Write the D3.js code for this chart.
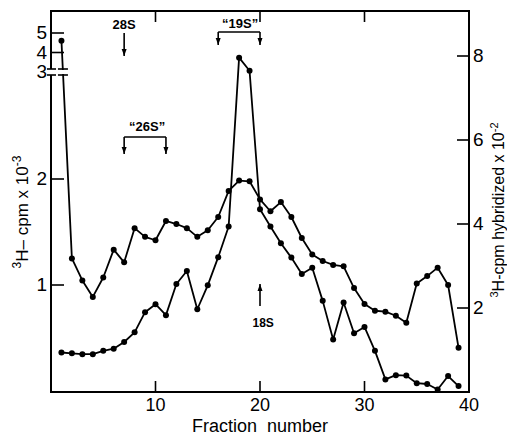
<!DOCTYPE html>
<html>
<head>
<meta charset="utf-8">
<script src="https://cdn.jsdelivr.net/npm/d3@7"></script>
<style>
  body { margin: 0; background: #fff; }
  svg { display: block; }
  text { font-family: "Liberation Sans", Arial, sans-serif; fill: #000; }
</style>
</head>
<body>
<script>
// fraction numbers 1..39
const fractions = d3.range(1, 40);

// total 3H-cpm x 10^-3 (left, log axis; first value sits above the axis break)
const totalCpm = [4.6, 1.19, 1.03, 0.925, 1.05, 1.26, 1.16, 1.45, 1.37, 1.34,
  1.52, 1.49, 1.45, 1.37, 1.43, 1.56, 1.85, 1.98, 1.97, 1.75,
  1.62, 1.72, 1.56, 1.36, 1.22, 1.17, 1.14, 1.13, 0.98, 0.883,
  0.845, 0.84, 0.818, 0.781, 1.01, 1.06, 1.12, 1.0, 0.663];

// hybridized 3H-cpm x 10^-2 (right, linear axis)
const hybridCpm = [0.94, 0.92, 0.9, 0.9, 0.98, 1.03, 1.19, 1.42, 1.9, 2.09,
  1.83, 2.57, 2.88, 1.97, 2.54, 3.21, 3.94, 7.96, 7.65, 4.35,
  3.94, 3.54, 3.2, 2.81, 2.96, 2.17, 1.25, 2.13, 1.4, 1.55,
  0.98, 0.3, 0.4, 0.39, 0.21, 0.19, 0.06, 0.38, 0.14];

const xTicks = [10, 20, 30, 40];
const leftTicks = [1, 2];
const leftUpperTicks = [3, 4, 5];
const rightTicks = [2, 4, 6, 8];

const width = 507, height = 437;
const plotLeft = 51, plotRight = 469, plotTop = 11, plotBottom = 392;
const breakY = 72;

const svg = d3.select("body").append("svg")
    .attr("width", width)
    .attr("height", height);

const x = d3.scaleLinear().domain([0, 40]).range([plotLeft, plotRight]);
const yLog = d3.scaleLog().domain([1, 2]).range([285, 179]);
const yUpper = d3.scaleLinear().domain([3, 5]).range([breakY, 33]);
const yLeft = v => v >= 3 ? yUpper(v) : yLog(v);
const yRight = d3.scaleLinear().domain([0, 8]).range([plotBottom, 56]);

const ink = "#000";

// frame
svg.append("path")
    .attr("d", `M${plotLeft},${breakY - 3}V${plotTop}H${plotRight}V${plotBottom}H${plotLeft}V${breakY + 3}`)
    .attr("fill", "none").attr("stroke", ink).attr("stroke-width", 2);

// axis break marks on left axis
[breakY - 3, breakY + 3].forEach(yy => {
  svg.append("line").attr("x1", plotLeft - 4).attr("x2", plotLeft + 5)
      .attr("y1", yy).attr("y2", yy).attr("stroke", ink).attr("stroke-width", 1.6);
});

// x ticks bottom (inward) and top (inward), no tick at 40
xTicks.filter(d => d < 40).forEach(d => {
  svg.append("line").attr("x1", x(d)).attr("x2", x(d))
      .attr("y1", plotBottom).attr("y2", plotBottom - 11).attr("stroke", ink).attr("stroke-width", 1.6);
  svg.append("line").attr("x1", x(d)).attr("x2", x(d))
      .attr("y1", plotTop).attr("y2", plotTop + 11).attr("stroke", ink).attr("stroke-width", 1.6);
});
svg.append("g").selectAll("text").data(xTicks).join("text")
    .attr("x", d => x(d)).attr("y", 411)
    .attr("text-anchor", "middle")
    .style("font-size", "18px")
    .text(d => d);

// left ticks
leftTicks.forEach(d => {
  svg.append("line").attr("x1", plotLeft).attr("x2", plotLeft + 13)
      .attr("y1", yLog(d)).attr("y2", yLog(d)).attr("stroke", ink).attr("stroke-width", 1.6);
});
leftUpperTicks.filter(d => d > 3).forEach(d => {
  svg.append("line").attr("x1", plotLeft).attr("x2", plotLeft + 13)
      .attr("y1", yUpper(d)).attr("y2", yUpper(d)).attr("stroke", ink).attr("stroke-width", 1.6);
});
svg.append("g").selectAll("text").data(leftTicks.map(d => [d, yLog(d)]).concat(leftUpperTicks.map(d => [d, yUpper(d)])))
    .join("text")
    .attr("x", 47).attr("y", d => d[1] + 6)
    .attr("text-anchor", "end")
    .style("font-size", "19px")
    .text(d => d[0]);

// right ticks
rightTicks.forEach(d => {
  svg.append("line").attr("x1", plotRight - 12).attr("x2", plotRight)
      .attr("y1", yRight(d)).attr("y2", yRight(d)).attr("stroke", ink).attr("stroke-width", 1.6);
});
svg.append("g").selectAll("text").data(rightTicks).join("text")
    .attr("x", 473).attr("y", d => yRight(d) + 6)
    .style("font-size", "19px")
    .text(d => d);

// series lines
function drawSeries(values, yf) {
  const pts = fractions.map((f, i) => [x(f), yf(values[i])]);
  svg.append("path")
      .attr("d", d3.line()(pts))
      .attr("fill", "none").attr("stroke", ink).attr("stroke-width", 1.8)
      .attr("stroke-linejoin", "round");
  svg.append("g").selectAll("circle").data(pts).join("circle")
      .attr("cx", d => d[0]).attr("cy", d => d[1]).attr("r", 3)
      .attr("fill", ink);
  return pts;
}
const totalPts = drawSeries(totalCpm, yLeft);
drawSeries(hybridCpm, yRight);

// break marks on the first segment of total cpm
{
  const [p0, p1] = totalPts;
  const t = (breakY - p0[1]) / (p1[1] - p0[1]);
  const bx = p0[0] + t * (p1[0] - p0[0]);
  svg.append("rect").attr("x", bx - 3).attr("y", breakY - 2).attr("width", 6).attr("height", 4)
      .attr("fill", "#fff");
  [breakY - 3, breakY + 3].forEach(yy => {
    svg.append("line").attr("x1", bx - 5).attr("x2", bx + 5)
        .attr("y1", yy).attr("y2", yy).attr("stroke", ink).attr("stroke-width", 1.6);
  });
}

// arrowhead
function arrow(x0, y0, y1) {
  svg.append("line").attr("x1", x0).attr("x2", x0).attr("y1", y0).attr("y2", y1)
      .attr("stroke", ink).attr("stroke-width", 1.6);
  const dir = y1 > y0 ? 1 : -1;
  svg.append("path")
      .attr("d", `M${x0 - 2.5},${y1 - dir * 7}L${x0},${y1}L${x0 + 2.5},${y1 - dir * 7}Z`)
      .attr("fill", ink);
}

function label(txt, cx, by, size) {
  svg.append("text").attr("x", cx).attr("y", by)
      .attr("text-anchor", "middle")
      .style("font-size", size + "px").style("font-weight", "bold")
      .text(txt);
}

// 28S
label("28S", x(7), 29, 13);
arrow(x(7), 33, 56);

// "26S" bracket
label("\u201c26S\u201d", x(9.2), 131, 13);
svg.append("line").attr("x1", x(7)).attr("x2", x(11)).attr("y1", 137).attr("y2", 137)
    .attr("stroke", ink).attr("stroke-width", 1.6);
arrow(x(7), 137, 154);
arrow(x(11), 137, 154);

// "19S" bracket
label("\u201c19S\u201d", x(18.1), 28, 13);
svg.append("line").attr("x1", x(16)).attr("x2", x(20)).attr("y1", 32).attr("y2", 32)
    .attr("stroke", ink).attr("stroke-width", 1.6);
arrow(x(16), 32, 45);
arrow(x(20), 32, 45);

// 18S
arrow(x(20), 306, 284);
label("18S", x(20.3), 327, 12);

// axis titles
svg.append("text")
    .attr("x", 260).attr("y", 432)
    .attr("text-anchor", "middle")
    .style("font-size", "18px")
    .style("white-space", "pre")
    .text("Fraction  number");

const lt = svg.append("text")
    .attr("transform", "translate(28,212) rotate(-90)")
    .attr("text-anchor", "middle")
    .style("font-size", "17px");
lt.append("tspan").attr("dy", -7).style("font-size", "12px").text("3");
lt.append("tspan").attr("dy", 7).text("H\u2013 cpm x 10");
lt.append("tspan").attr("dy", -7).style("font-size", "12px").text("-3");

const rt = svg.append("text")
    .attr("transform", "translate(504,210) rotate(-90)")
    .attr("text-anchor", "middle")
    .style("font-size", "16px");
rt.append("tspan").attr("dy", -6).style("font-size", "11px").text("3");
rt.append("tspan").attr("dy", 6).text("H-cpm  hybridized x 10");
rt.append("tspan").attr("dy", -6).style("font-size", "11px").text("-2");
</script>
</body>
</html>
